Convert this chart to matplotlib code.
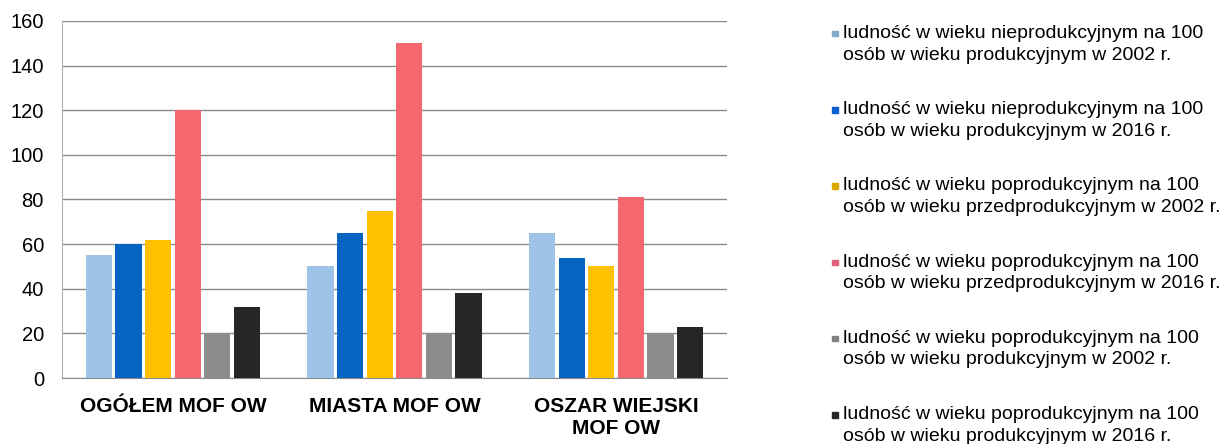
import numpy as np
import matplotlib
matplotlib.use("Agg")
import matplotlib.pyplot as plt
from matplotlib.patches import Rectangle

plt.rcParams['font.family'] = ['Liberation Sans', 'DejaVu Sans']

# data
categories = ["OGÓŁEM MOF OW", "MIASTA MOF OW", "OSZAR WIEJSKI\nMOF OW"]
series_labels = [
    "ludność w wieku nieprodukcyjnym na 100\nosób w wieku produkcyjnym w 2002 r.",
    "ludność w wieku nieprodukcyjnym na 100\nosób w wieku produkcyjnym w 2016 r.",
    "ludność w wieku poprodukcyjnym na 100\nosób w wieku przedprodukcyjnym w 2002 r.",
    "ludność w wieku poprodukcyjnym na 100\nosób w wieku przedprodukcyjnym w 2016 r.",
    "ludność w wieku poprodukcyjnym na 100\nosób w wieku produkcyjnym w 2002 r.",
    "ludność w wieku poprodukcyjnym na 100\nosób w wieku produkcyjnym w 2016 r.",
]
nieprod_2002 = [55, 50, 65]
nieprod_2016 = [60, 65, 54]
poprod_przed_2002 = [62, 75, 50]
poprod_przed_2016 = [120, 150, 81]
poprod_prod_2002 = [20, 20, 20]
poprod_prod_2016 = [32, 38, 23]
values = [nieprod_2002, nieprod_2016, poprod_przed_2002,
          poprod_przed_2016, poprod_prod_2002, poprod_prod_2016]
colors = ["#9DC3E6", "#0563C1", "#FFC000", "#F4676F", "#8C8C8C", "#262626"]
legend_colors = ["#84AACB", "#0A5FD0", "#D9A800", "#E0607A", "#808080", "#262626"]

fig = plt.figure(figsize=(12.24, 4.44), dpi=100)
ax = fig.add_axes([62 / 1224, 66 / 444, (727 - 62) / 1224, (378 - 21) / 444])

x = np.arange(len(categories))
step = 0.1335
width = 0.118
for i, (vals, c) in enumerate(zip(values, colors)):
    ax.bar(x + (i - 2.5) * step, vals, width, color=c, zorder=3)

ax.set_xlim(-0.5, 2.5)
ax.set_ylim(0, 160)
ax.set_yticks(range(0, 161, 20))
ax.set_xticks(x)
ax.set_xticklabels(categories, fontsize=15, fontweight='bold', linespacing=1.15)
ax.tick_params(axis='x', length=0, pad=14)
ax.tick_params(axis='y', length=0, pad=13, labelsize=14.5)
ax.yaxis.grid(True, color='#8a8a8a', linewidth=1, zorder=0)
for s in ['top', 'right']:
    ax.spines[s].set_visible(False)
ax.spines['left'].set_color('#b0b0b0')
ax.spines['bottom'].set_color('#8a8a8a')

# legend drawn manually so the marker sits on the first line
for i, (lab, c) in enumerate(zip(series_labels, legend_colors)):
    ytop = 25 + i * 76.2
    fig.text(843 / 1224, 1 - ytop / 444, lab, fontsize=14, va='top',
             ha='left', linespacing=1.35)
    fig.add_artist(Rectangle((832 / 1224, 1 - (ytop + 11.5) / 444), 5.5 / 1224, 5.5 / 444,
                             color=c, transform=fig.transFigure))

fig.savefig("out.png", dpi=100)
